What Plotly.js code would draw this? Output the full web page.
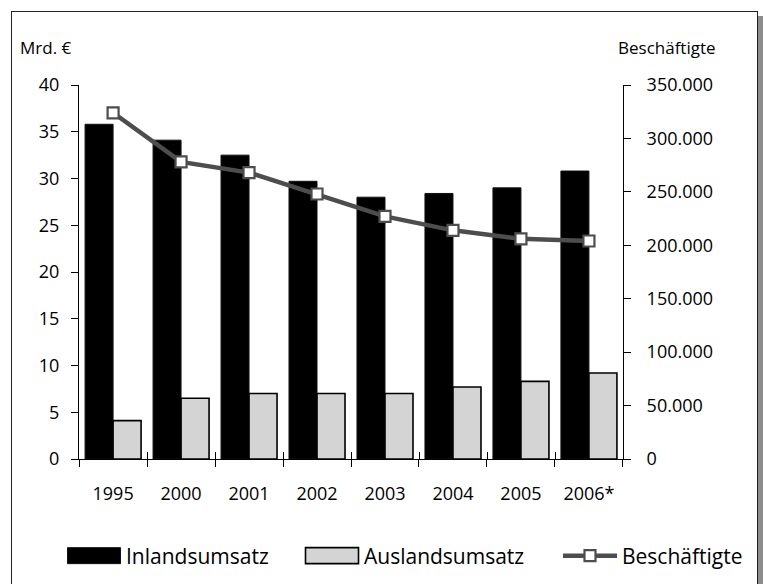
<!DOCTYPE html>
<html><head><meta charset="utf-8">
<script src="https://cdn.plot.ly/plotly-3.0.1.min.js"></script>
<style>
html,body{margin:0;padding:0;background:#fff;width:763px;height:584px;overflow:hidden;}
#frame{position:absolute;left:11px;top:11px;width:745px;height:640px;border:1.5px solid #222;box-shadow:5px 5px 0 #8c8c8c;background:#fff;}
#chart{position:absolute;left:0;top:0;width:763px;height:584px;}
</style></head>
<body><div id="frame"></div><div id="chart"></div>
<script>
const years = ['1995','2000','2001','2002','2003','2004','2005','2006*'];
const inlandsumsatz = [35.8, 34.1, 32.5, 29.7, 28.0, 28.4, 29.0, 30.8];
const auslandsumsatz = [4.1, 6.5, 7.0, 7.0, 7.0, 7.7, 8.3, 9.2];
const beschaeftigte = [324000, 278000, 268000, 248000, 227000, 214000, 206000, 204000];
const leftTicks = [0, 5, 10, 15, 20, 25, 30, 35, 40];
const rightTicks = [0, 50000, 100000, 150000, 200000, 250000, 300000, 350000];
const seriesNames = ['Inlandsumsatz', 'Auslandsumsatz', 'Beschäftigte'];
const leftTitle = 'Mrd. €';
const rightTitle = 'Beschäftigte';

const FONT = 'Open Sans, Noto Sans, sans-serif';
const boundaries = years.map((_, i) => i - 0.5).concat([years.length - 0.5]);
const W = 763, H = 584;

const traces = [
  {type:'bar', name:seriesNames[0], x:years, y:inlandsumsatz, legend:'legend',
   marker:{color:'#000', line:{color:'#111', width:1}}, hoverinfo:'skip'},
  {type:'bar', name:seriesNames[1], x:years, y:auslandsumsatz, legend:'legend2',
   marker:{color:'#d4d4d4', line:{color:'#000', width:1.6}}, hoverinfo:'skip'},
  {type:'scatter', mode:'lines+markers', name:seriesNames[2], x:years, y:beschaeftigte, yaxis:'y2', legend:'legend3',
   line:{color:'#4d4d4d', width:4.5},
   marker:{symbol:'square', size:11, color:'#fff', line:{color:'#4d4d4d', width:2.2}}, hoverinfo:'skip'},
  {type:'scatter', mode:'markers', x:[boundaries[0], boundaries[boundaries.length-1]], y:[0,0],
   xaxis:'x2', yaxis:'y', opacity:0, showlegend:false, hoverinfo:'skip', marker:{size:1}}
];

function leg(px){
  return {xref:'container', yref:'container', x:px/W, y:1-556/H, xanchor:'left', yanchor:'middle',
          orientation:'h', itemwidth:54, font:{size:21, family:FONT}, bgcolor:'rgba(0,0,0,0)'};
}

const layout = {
  width:W, height:H,
  margin:{l:79, r:140, t:85, b:124.5},
  paper_bgcolor:'rgba(0,0,0,0)', plot_bgcolor:'rgba(0,0,0,0)',
  font:{family:FONT, size:16, color:'#000'},
  separators:',.',
  barmode:'group', bargap:0.176, bargroupgap:0,
  showlegend:true,
  legend:leg(62), legend2:leg(300), legend3:leg(558),
  xaxis:{type:'category', showline:true, linecolor:'#000', linewidth:1,
         ticks:'outside', ticklen:7, tickcolor:'#000', tickwidth:1, tickson:'boundaries',
         tickfont:{size:18}, ticklabelstandoff:18, showgrid:false, zeroline:false, fixedrange:true},
  xaxis2:{overlaying:'x', anchor:'y', range:[boundaries[0], boundaries[boundaries.length-1]],
          tickvals:boundaries, ticks:'inside', ticklen:7, tickcolor:'#000', tickwidth:1,
          showticklabels:false, showline:false, showgrid:false, zeroline:false, side:'bottom'},
  yaxis:{range:[0,40], tickvals:leftTicks, showline:true, linecolor:'#000', linewidth:1,
         ticks:'outside', ticklen:7, tickcolor:'#000', tickwidth:1,
         showgrid:false, zeroline:false, tickfont:{size:18}, ticklabelstandoff:8},
  yaxis2:{overlaying:'y', side:'right', anchor:'x', range:[0,350000], tickvals:rightTicks,
          tickformat:',d', showline:true, linecolor:'#000', linewidth:1,
          ticks:'outside', ticklen:7, tickcolor:'#000', tickwidth:1,
          showgrid:false, zeroline:false, tickfont:{size:18}, ticklabelstandoff:12},
  annotations:[
    {text:leftTitle, xref:'paper', yref:'paper', x:-0.112, y:1.099, xanchor:'left', yanchor:'middle',
     showarrow:false, font:{size:17}},
    {text:rightTitle, xref:'paper', yref:'paper', x:1.174, y:1.099, xanchor:'right', yanchor:'middle',
     showarrow:false, font:{size:17}}
  ]
};

function widenBarSymbols(){
  document.querySelectorAll('g.legendpoints > path').forEach(function(p){
    if (p.classList.contains('scatterpts')) return;
    p.setAttribute('d', 'M26.5,8H-26.5V-8H26.5Z');
  });
}

Plotly.newPlot('chart', traces, layout, {staticPlot:true}).then(function(){
  widenBarSymbols();
  setTimeout(widenBarSymbols, 0);
});
</script>
</body></html>
